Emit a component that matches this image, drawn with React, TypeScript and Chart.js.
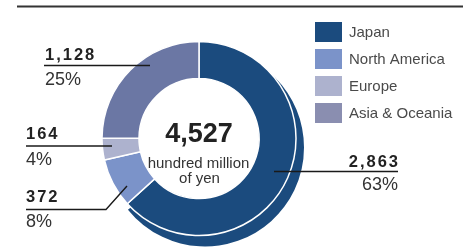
import React, { useEffect, useRef } from 'react';
import { Chart, ArcElement, DoughnutController } from 'chart.js';

Chart.register(ArcElement, DoughnutController);

// ---- data ----
const regions = ['Japan', 'North America', 'Europe', 'Asia & Oceania'];
const values = [2863, 372, 164, 1128];
const valueLabels = ['2,863', '372', '164', '1,128'];
const percentLabels = ['63%', '8%', '4%', '25%'];
const totalLabel = '4,527';
const unitLines = ['hundred million', 'of yen'];

// ---- styles ----
const sliceColors = ['#1b4b7e', '#7b93c9', '#adb2ce', '#6b77a4'];
const legendColors = ['#1b4b7e', '#7b93c9', '#adb2ce', '#8a8eb0'];
const FONT = '"Liberation Sans", Arial, Helvetica, sans-serif';

// label layout (positions only)
const labelLayout = [
  { x: 398, align: 'right', numY: 167, pctY: 190, line: [[274, 171.5], [398, 171.5]] },
  { x: 26, align: 'left', numY: 202, pctY: 227, line: [[26, 209.5], [106, 209.5], [127, 186]] },
  { x: 26, align: 'left', numY: 139, pctY: 165, line: [[26, 146], [112, 146]] },
  { x: 45, align: 'left', numY: 60, pctY: 85, line: [[44, 65.5], [150, 65.5]] },
];

const overlayPlugin = {
  id: 'overlay',
  beforeDatasetsDraw(chart: any) {
    const ctx = chart.ctx;
    const arc = chart.getDatasetMeta(0).data[0];
    if (!arc) return;
    const p = arc.getProps(['x', 'y', 'startAngle', 'endAngle', 'innerRadius', 'outerRadius', 'circumference']);
    const extra = 0.06;
    const copy: any = new ArcElement({
      x: p.x + 6,
      y: p.y + 9,
      startAngle: p.startAngle,
      endAngle: p.endAngle + extra,
      circumference: p.circumference + extra,
      innerRadius: p.outerRadius - 20,
      outerRadius: p.outerRadius + 2,
    } as any);
    copy.options = { ...arc.options, borderWidth: 0, offset: 0, spacing: 0, backgroundColor: sliceColors[0] };
    copy.draw(ctx);
  },
  afterDraw(chart: any) {
    const ctx = chart.ctx as CanvasRenderingContext2D;
    ctx.save();
    // top rule
    ctx.strokeStyle = '#333';
    ctx.lineWidth = 2;
    ctx.beginPath();
    ctx.moveTo(17, 6.5);
    ctx.lineTo(463, 6.5);
    ctx.stroke();

    // legend
    regions.forEach((name, i) => {
      const top = 22 + i * 27;
      ctx.fillStyle = legendColors[i];
      ctx.fillRect(315, top, 27, 20);
      ctx.fillStyle = '#4a4a4a';
      ctx.font = `15px ${FONT}`;
      ctx.textAlign = 'left';
      ctx.textBaseline = 'middle';
      ctx.fillText(name, 349, top + 10.5);
    });

    // leader lines + labels
    labelLayout.forEach((l, i) => {
      ctx.strokeStyle = '#1a1a1a';
      ctx.lineWidth = 1.4;
      ctx.beginPath();
      l.line.forEach(([x, y], k) => (k === 0 ? ctx.moveTo(x, y) : ctx.lineTo(x, y)));
      ctx.stroke();

      ctx.textAlign = l.align as CanvasTextAlign;
      ctx.textBaseline = 'alphabetic';
      ctx.fillStyle = '#222';
      ctx.font = `bold 16.5px ${FONT}`;
      (ctx as any).letterSpacing = '2px';
      ctx.fillText(valueLabels[i], l.align === 'right' ? l.x + 2 : l.x, l.numY);
      (ctx as any).letterSpacing = '0px';
      ctx.fillStyle = '#333';
      ctx.font = `18px ${FONT}`;
      ctx.fillText(percentLabels[i], l.x, l.pctY);
    });

    // center text
    ctx.textAlign = 'center';
    ctx.fillStyle = '#222';
    ctx.font = `bold 27px ${FONT}`;
    ctx.fillText(totalLabel, 199, 142);
    ctx.fillStyle = '#333';
    ctx.font = `15px ${FONT}`;
    ctx.fillText(unitLines[0], 198.5, 168);
    ctx.fillText(unitLines[1], 199.5, 183);
    ctx.restore();
  },
};

export default function App() {
  const ref = useRef<HTMLCanvasElement>(null);
  useEffect(() => {
    if (!ref.current) return;
    const chart = new Chart(ref.current, {
      type: 'doughnut',
      data: {
        labels: regions,
        datasets: [
          {
            data: values,
            backgroundColor: sliceColors,
            borderColor: '#ffffff',
            borderWidth: 1.5,
            hoverOffset: 0,
          },
        ],
      },
      options: {
        responsive: false,
        animation: false,
        events: [],
        radius: 97,
        cutout: '61.86%',
        layout: { padding: { left: 80, right: 153, top: 30, bottom: 0 } },
        plugins: { legend: { display: false }, tooltip: { enabled: false } },
      } as any,
      plugins: [overlayPlugin],
    });
    return () => chart.destroy();
  }, []);
  return (
    <div style={{ position: 'absolute', left: 0, top: 0, width: 471, height: 247, background: '#fff' }}>
      <canvas ref={ref} width={471} height={247} style={{ width: 471, height: 247 }} />
    </div>
  );
}
